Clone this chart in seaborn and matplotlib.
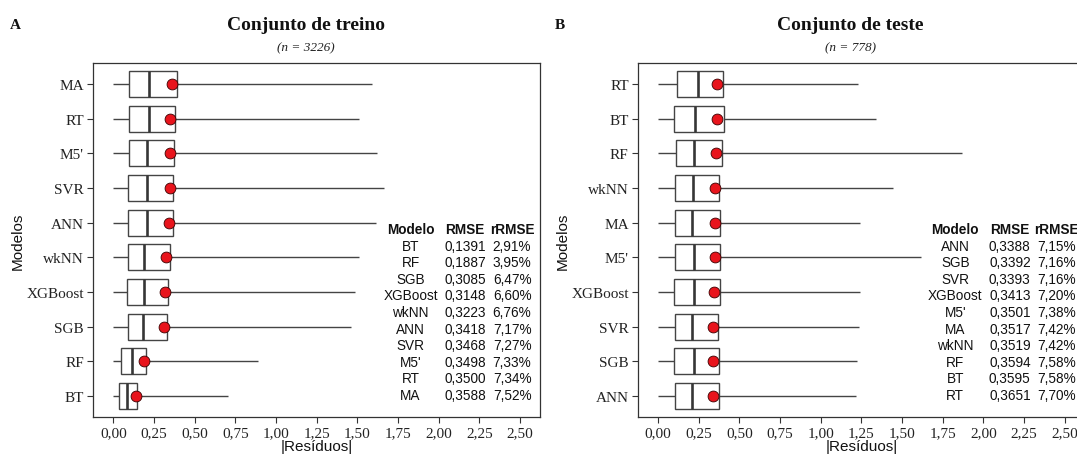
import numpy as np
import pandas as pd
import matplotlib
matplotlib.use("Agg")
import matplotlib.pyplot as plt
from matplotlib.ticker import FixedLocator, FuncFormatter
import seaborn as sns

# ---- Training set (n = 3226): |residual| summaries per model, table order ----
treino_modelos = ["BT", "RF", "SGB", "XGBoost", "wkNN", "ANN", "SVR", "M5'", "RT", "MA"]
treino_min = [0.0, 0.0, 0.0, 0.0, 0.0, 0.0, 0.0, 0.0, 0.0, 0.0]
treino_q1 = [0.035, 0.050, 0.0885, 0.084, 0.0885, 0.090, 0.093, 0.097, 0.097, 0.097]
treino_mediana = [0.084, 0.115, 0.181, 0.187, 0.191, 0.205, 0.210, 0.210, 0.218, 0.222]
treino_q3 = [0.146, 0.203, 0.333, 0.339, 0.351, 0.367, 0.367, 0.375, 0.379, 0.390]
treino_max = [0.707, 0.889, 1.463, 1.486, 1.513, 1.615, 1.666, 1.621, 1.510, 1.590]
treino_rmse = [0.1391, 0.1887, 0.3085, 0.3148, 0.3223, 0.3418, 0.3468, 0.3498, 0.3500, 0.3588]
treino_rrmse = ["2,91%", "3,95%", "6,47%", "6,60%", "6,76%", "7,17%", "7,27%", "7,33%", "7,34%", "7,52%"]

# ---- Test set (n = 778) ----
teste_modelos = ["ANN", "SGB", "SVR", "XGBoost", "M5'", "MA", "wkNN", "RF", "BT", "RT"]
teste_min = [0.0, 0.0, 0.0, 0.0, 0.0, 0.0, 0.0, 0.0, 0.0, 0.0]
teste_q1 = [0.107, 0.097, 0.105, 0.101, 0.103, 0.107, 0.107, 0.113, 0.097, 0.117]
teste_mediana = [0.211, 0.220, 0.209, 0.220, 0.220, 0.209, 0.215, 0.224, 0.230, 0.244]
teste_q3 = [0.377, 0.377, 0.367, 0.381, 0.379, 0.379, 0.377, 0.393, 0.403, 0.399]
teste_max = [1.220, 1.224, 1.237, 1.241, 1.619, 1.241, 1.445, 1.868, 1.343, 1.227]
teste_rmse = [0.3388, 0.3392, 0.3393, 0.3413, 0.3501, 0.3517, 0.3519, 0.3594, 0.3595, 0.3651]
teste_rrmse = ["7,15%", "7,16%", "7,16%", "7,20%", "7,38%", "7,42%", "7,42%", "7,58%", "7,58%", "7,70%"]

x_ticks = [0.0, 0.25, 0.5, 0.75, 1.0, 1.25, 1.5, 1.75, 2.0, 2.25, 2.5]

sns.set_style("white")
plt.rcParams["font.family"] = ["Liberation Serif", "DejaVu Serif"]

SANS = "Liberation Sans"
SERIF = "Liberation Serif"
LINE = "#444444"
FRAME = "#333333"


def num_br(v, nd):
    return f"{v:.{nd}f}".replace(".", ",")


def five_number_frame(modelos, mn, q1, med, q3, mx):
    # five values per model: with whis=(0, 100) the box and whiskers reproduce them
    rows = []
    for m, a, b, c, d, e in zip(modelos, mn, q1, med, q3, mx):
        for v in (a, b, c, d, e):
            rows.append({"Modelo": m, "residuo": v})
    return pd.DataFrame(rows)


def painel(ax, letra, titulo, subtitulo, modelos, mn, q1, med, q3, mx, rmse, rrmse):
    ordem = list(reversed(modelos))
    df = five_number_frame(modelos, mn, q1, med, q3, mx)
    sns.boxplot(data=df, x="residuo", y="Modelo", order=ordem, whis=(0, 100),
                width=0.75, color="white", linecolor=LINE, linewidth=1.0,
                showcaps=False, showfliers=False,
                medianprops={"linewidth": 1.9, "color": "#363636"}, ax=ax)
    pts = pd.DataFrame({"Modelo": modelos, "RMSE": rmse})
    sns.stripplot(data=pts, x="RMSE", y="Modelo", order=ordem, jitter=False,
                  size=7.8, color="#E8141C", edgecolor="#3a0000", linewidth=0.6,
                  ax=ax, zorder=5)

    ax.set_xlim(-0.125, 2.625)
    ax.set_ylim(len(ordem) - 0.4, -0.6)
    ax.xaxis.set_major_locator(FixedLocator(x_ticks))
    ax.xaxis.set_major_formatter(FuncFormatter(lambda v, p: num_br(v, 2)))
    ax.tick_params(axis="both", which="major", direction="out", length=4,
                   width=0.8, color=FRAME, labelsize=11, pad=2.5,
                   labelcolor="#222222", bottom=True, left=True)
    for lab in ax.get_xticklabels() + ax.get_yticklabels():
        lab.set_fontfamily(SERIF)
    for s in ax.spines.values():
        s.set_visible(True)
        s.set_color(FRAME)
        s.set_linewidth(0.9)

    ax.set_xlabel("|Resíduos|", fontfamily=SANS, fontsize=11, color="#111111")
    ax.set_ylabel("Modelos", fontfamily=SANS, fontsize=11, color="#111111")
    ax.xaxis.set_label_coords(0.5, -0.062)
    ax.yaxis.set_label_coords(-0.153, 0.5)

    ax.text(0.476, 1.11, titulo, transform=ax.transAxes, ha="center", va="center",
            fontfamily=SERIF, fontweight="bold", fontsize=14, color="#111111")
    ax.text(0.476, 1.044, subtitulo, transform=ax.transAxes, ha="center", va="center",
            fontfamily=SERIF, fontstyle="italic", fontsize=9.5, color="#222222")
    ax.text(-0.174, 1.11, letra, transform=ax.transAxes, ha="center", va="center",
            fontfamily=SERIF, fontweight="bold", fontsize=11, color="#111111")

    # RMSE table inside the panel
    cols = [0.71, 0.832, 0.937]
    y0, dy = 0.531, 0.0469
    for x, h in zip(cols, ["Modelo", "RMSE", "rRMSE"]):
        ax.text(x, y0, h, transform=ax.transAxes, ha="center", va="center",
                fontfamily=SANS, fontweight="bold", fontsize=9.8, color="#111111")
    for i, (m, r, rr) in enumerate(zip(modelos, rmse, rrmse)):
        y = y0 - dy * (i + 1)
        for x, t in zip(cols, [m, num_br(r, 4), rr]):
            ax.text(x, y, t, transform=ax.transAxes, ha="center", va="center",
                    fontfamily=SANS, fontsize=9.8, color="#111111")


W, H = 1077, 456
fig = plt.figure(figsize=(W / 100, H / 100), dpi=100)
ax_w, ax_h = 447.3 / W, 354 / H
bottom = (H - 418) / H
ax1 = fig.add_axes([93 / W, bottom, ax_w, ax_h])
ax2 = fig.add_axes([637.7 / W, bottom, ax_w, ax_h])

painel(ax1, "A", "Conjunto de treino", "(n = 3226)", treino_modelos, treino_min,
       treino_q1, treino_mediana, treino_q3, treino_max, treino_rmse, treino_rrmse)
painel(ax2, "B", "Conjunto de teste", "(n = 778)", teste_modelos, teste_min,
       teste_q1, teste_mediana, teste_q3, teste_max, teste_rmse, teste_rrmse)

fig.savefig("out.png", dpi=100)
